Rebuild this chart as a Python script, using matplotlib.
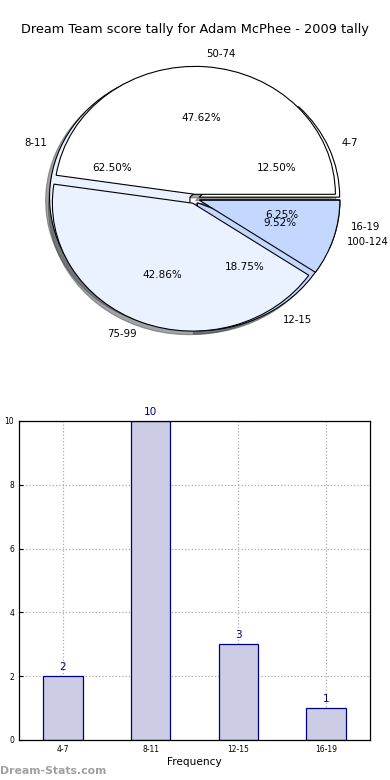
import matplotlib
matplotlib.use("Agg")
import matplotlib.pyplot as plt

title = "Dream Team score tally for Adam McPhee - 2009 tally"

# Pie 1: score intervals (season scores)
score_labels = ["50-74", "75-99", "100-124"]
score_counts = [10, 9, 2]

# Pie 2 / bar: frequency intervals
freq_labels = ["4-7", "8-11", "12-15", "16-19"]
freq_counts = [2, 10, 3, 1]

pie_colors = ["#ffffff", "#ebf2ff", "#c4d8ff"]
freq_colors = ["#ffffff", "#ebf2ff", "#c4d8ff", "#ffffff"]

plt.rcParams['font.family'] = ['DejaVu Sans']
fig = plt.figure(figsize=(3.9, 7.8), dpi=100)

# ---------- Pie chart ----------
axp = fig.add_axes([0.049, 0.54, 0.9, 0.41])
expl = 0.036
w2 = axp.pie(freq_counts, labels=freq_labels, colors=freq_colors,
             explode=[expl] * len(freq_counts), autopct='%1.2f%%',
             pctdistance=0.6, labeldistance=1.1, shadow=True,
             wedgeprops=dict(edgecolor='black', linewidth=0.8),
             textprops=dict(fontsize=7.5))
w1 = axp.pie(score_counts, labels=score_labels, colors=pie_colors,
             explode=[expl] * len(score_counts), autopct='%1.2f%%',
             pctdistance=0.6, labeldistance=1.1, shadow=True,
             wedgeprops=dict(edgecolor='black', linewidth=0.8),
             textprops=dict(fontsize=7.5))
for t in w1[1] + w2[1]:
    t.set_fontsize(7.3)
axp.set_aspect('auto')
axp.set_xlim(-1.25, 1.25)
axp.set_ylim(-1.25, 1.25)
axp.axis('off')
fig.text(0.5, 1 - 30 / 780, title, ha='center', va='center', fontsize=9.3)

# ---------- Bar chart ----------
axb = fig.add_axes([0.0487, 0.0513, 0.9, 0.409])
x = list(range(len(freq_labels)))
bars = axb.bar(x, freq_counts, width=0.45, color='#ccccE4',
               edgecolor='#000080', linewidth=0.9, zorder=2)
for xi, v in zip(x, freq_counts):
    axb.text(xi, v + 0.12, str(v), ha='center', va='bottom',
             color='#000080', fontsize=7.6)
axb.set_xlim(-0.5, 3.5)
axb.set_ylim(0, 10)
axb.set_xticks(x)
axb.set_xticklabels(freq_labels, fontsize=5.5)
axb.set_yticks([0, 2, 4, 6, 8, 10])
axb.tick_params(axis='y', labelsize=5.5, direction='in', length=3)
axb.tick_params(axis='x', direction='in', length=3)
axb.grid(True, linestyle=':', color='#aaaaaa', linewidth=0.9, zorder=0)
axb.set_axisbelow(True)
axb.set_xlabel("Frequency", fontsize=7.6, labelpad=2)
for s in axb.spines.values():
    s.set_linewidth(0.9)
fig.text(-0.004, 0.24, "Score Interval", rotation=90, ha='center',
         va='center', fontsize=7)

fig.text(0.0, 1 - 771 / 780, "Dream-Stats.com", ha='left', va='center',
         fontsize=7.8, color='#a0a0a0', fontweight='bold')

fig.savefig("out.png", dpi=100)
